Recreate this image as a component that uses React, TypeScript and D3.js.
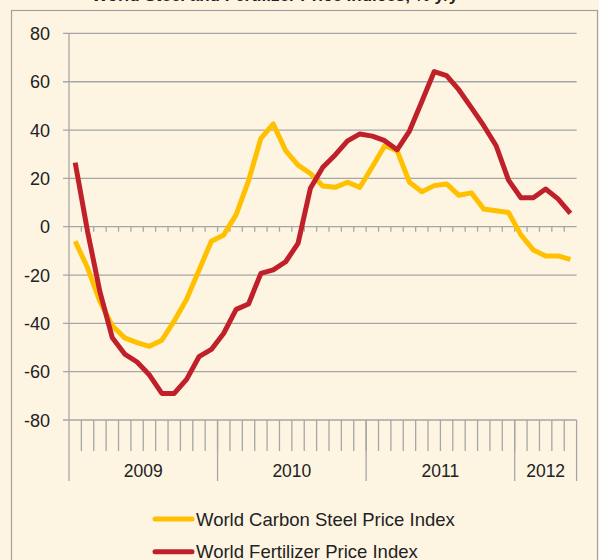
import React from "react";
import { scaleBand, scaleLinear, line } from "d3";

// Jan 2009 .. May 2012, % y/y
const years = ["2009", "2010", "2011", "2012"];
const monthsPerYear = [12, 12, 12, 5];
const yTicks = [80, 60, 40, 20, 0, -20, -40, -60, -80];

const steel = [
  -6, -17, -31, -41, -46, -48, -49.5, -47, -39, -30,
  -18, -6, -3.4, 5, 19, 36.6, 42.5, 31.5, 25.5, 22,
  16.8, 16.3, 18.4, 16.3, 24.8, 33.5, 31.5, 18.4, 14.5, 17,
  17.7, 13, 14, 7.3, 6.6, 5.9, -3.4, -9.6, -12.1, -12.1,
  -13.5,
];

const fertilizer = [
  26.5, -2, -27, -46, -52.7, -56, -61.4, -69, -69, -63.2,
  -53.8, -50.8, -44.1, -34.2, -32, -19.3, -17.9, -14.5, -6.9, 15.9,
  24.6, 29.7, 35.5, 38.4, 37.5, 35.6, 31.8, 39.6, 51.8, 64.2,
  62.5, 56.6, 49.3, 41.8, 33.5, 19.3, 12, 12, 15.6, 11.5,
  5.5,
];

const series = [
  { name: "World Carbon Steel Price Index", values: steel, color: "#FFC000" },
  { name: "World Fertilizer Price Index", values: fertilizer, color: "#C0202A" },
];

const months = steel.map((_, i) => i);

export default function App() {
  const width = 599;
  const height = 560;
  const margin = { left: 69, right: 22.4, top: 33.4, bottom: 140 };
  const innerW = width - margin.left - margin.right;
  const plotBottom = 420;

  const x = scaleBand<number>()
    .domain(months)
    .range([margin.left, margin.left + innerW]);
  const y = scaleLinear().domain([-80, 80]).range([plotBottom, margin.top]);

  const path = line<number>()
    .x((_, i) => (x(i) as number) + x.bandwidth() / 2)
    .y((d) => y(d));

  const font = "'Liberation Sans', Arial, sans-serif";
  const xEnd = margin.left + innerW;

  // year boundaries
  let acc = 0;
  const yearBounds = monthsPerYear.map((n, k) => {
    const start = x(acc) as number;
    acc += n;
    const end = acc < months.length ? (x(acc) as number) : xEnd;
    return { label: years[k], start, end };
  });

  return (
    <svg
      width={width}
      height={height}
      style={{ position: "absolute", left: 0, top: 0, background: "#FDF5E2" }}
    >
      <rect x={0} y={0} width={width} height={height} fill="#FDF5E2" />
      <text
        x={275}
        y={1}
        textAnchor="middle"
        fontFamily={font}
        fontWeight="bold"
        fontSize={17}
        fill="#222"
      >
        World Steel and Fertilizer Price Indices, % y/y
      </text>
      <rect
        x={11.5}
        y={10.5}
        width={586}
        height={560}
        fill="#FDF5E2"
        stroke="#A0A0A0"
        strokeWidth={1.2}
      />

      {/* gridlines */}
      {yTicks.map((t) => (
        <g key={t}>
          <line
            x1={63}
            x2={xEnd}
            y1={y(t)}
            y2={y(t)}
            stroke="#A6A6A6"
            strokeWidth={1.3}
          />
          <text
            x={50}
            y={y(t) + 6.5}
            textAnchor="end"
            fontFamily={font}
            fontSize={18}
            fill="#222"
          >
            {t}
          </text>
        </g>
      ))}

      {/* vertical axis */}
      <line
        x1={margin.left}
        x2={margin.left}
        y1={margin.top}
        y2={481}
        stroke="#A6A6A6"
        strokeWidth={1.3}
      />

      {/* small ticks at zero */}
      {months.slice(1).map((m) => (
        <line
          key={"z" + m}
          x1={x(m) as number}
          x2={x(m) as number}
          y1={y(0)}
          y2={y(0) + 5}
          stroke="#A6A6A6"
          strokeWidth={1.3}
        />
      ))}

      {/* month ticks at bottom */}
      {months.slice(1).map((m) => (
        <line
          key={"b" + m}
          x1={x(m) as number}
          x2={x(m) as number}
          y1={plotBottom}
          y2={451}
          stroke="#A6A6A6"
          strokeWidth={1.3}
        />
      ))}

      {/* year separators and labels */}
      {yearBounds.map((yb) => (
        <g key={yb.label}>
          <line
            x1={yb.end}
            x2={yb.end}
            y1={plotBottom}
            y2={481}
            stroke="#A6A6A6"
            strokeWidth={1.3}
          />
          <text
            x={(yb.start + yb.end) / 2}
            y={477}
            textAnchor="middle"
            fontFamily={font}
            fontSize={17.5}
            fill="#222"
          >
            {yb.label}
          </text>
        </g>
      ))}

      {/* series */}
      {series.map((s) => (
        <path
          key={s.name}
          d={path(s.values) || ""}
          fill="none"
          stroke={s.color}
          strokeWidth={5}
          strokeLinejoin="round"
        />
      ))}

      {/* legend */}
      {series.map((s, i) => (
        <g key={"lg" + i} transform={`translate(0, ${519 + i * 32.7})`}>
          <line
            x1={155}
            x2={192}
            y1={0}
            y2={0}
            stroke={s.color}
            strokeWidth={5}
            strokeLinecap="round"
          />
          <text x={196} y={6.5} fontFamily={font} fontSize={18.5} fill="#222">
            {s.name}
          </text>
        </g>
      ))}
    </svg>
  );
}
